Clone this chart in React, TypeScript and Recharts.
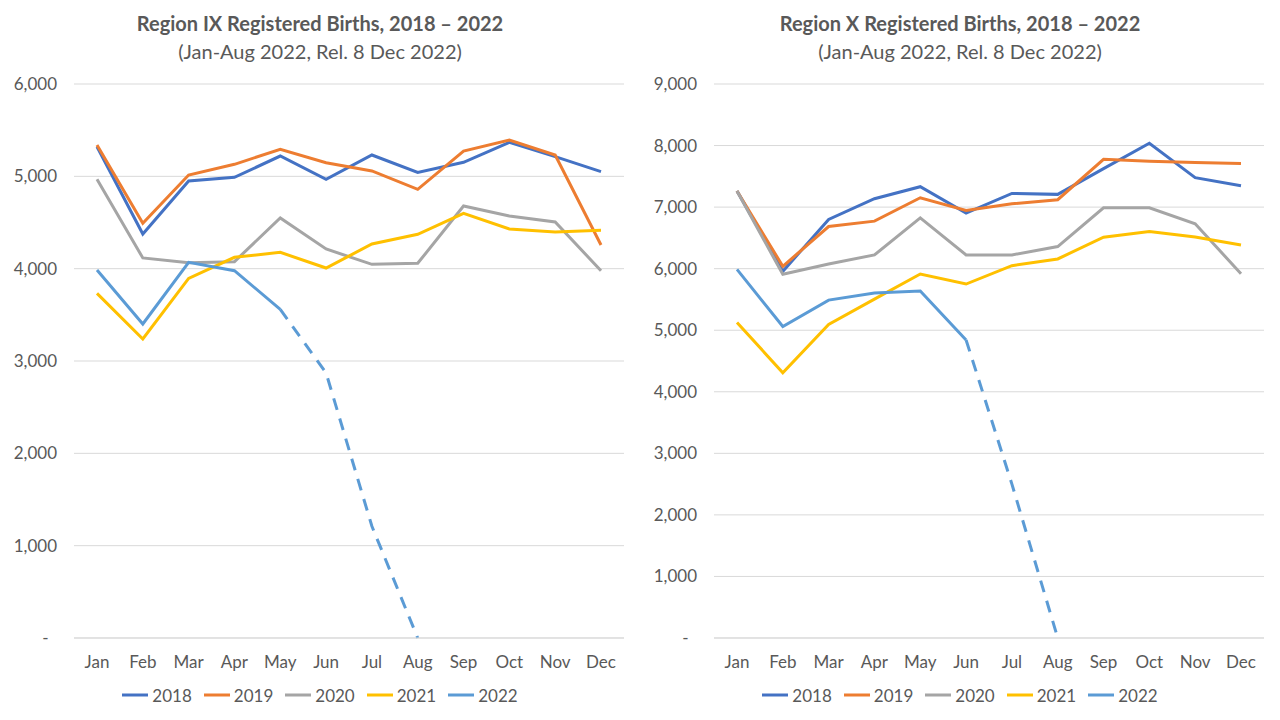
import React from "react";
import { LineChart, Line, XAxis, YAxis, CartesianGrid } from "recharts";

const months = ["Jan", "Feb", "Mar", "Apr", "May", "Jun", "Jul", "Aug", "Sep", "Oct", "Nov", "Dec"];
const years = ["2018", "2019", "2020", "2021", "2022"];

// Region IX
const r9y2018 = [5321, 4375, 4949, 4989, 5220, 4968, 5231, 5043, 5152, 5368, 5213, 5051];
const r9y2019 = [5339, 4491, 5014, 5130, 5292, 5148, 5058, 4859, 5274, 5394, 5231, 4256];
const r9y2020 = [4968, 4116, 4065, 4076, 4549, 4213, 4047, 4058, 4679, 4570, 4505, 3978];
const r9y2021 = [3733, 3238, 3895, 4123, 4177, 4007, 4267, 4372, 4599, 4430, 4397, 4415];
const r9y2022 = [3986, 3401, 4069, 3978, 3560, 2870, 1210, 0, null, null, null, null];
const r9SolidThrough = 4; // May: later months drawn dashed
const r9Ticks = [0, 1000, 2000, 3000, 4000, 5000, 6000];

// Region X
const r10y2018 = [7261, 5957, 6799, 7136, 7332, 6902, 7223, 7207, 7625, 8038, 7478, 7348];
const r10y2019 = [7261, 6038, 6685, 6772, 7152, 6946, 7054, 7120, 7777, 7745, 7723, 7707];
const r10y2020 = [7261, 5908, 6076, 6223, 6826, 6223, 6223, 6359, 6989, 6989, 6728, 5918];
const r10y2021 = [5125, 4310, 5092, 5505, 5913, 5750, 6049, 6158, 6511, 6603, 6516, 6386];
const r10y2022 = [5989, 5060, 5489, 5603, 5636, 4842, 2500, 0, null, null, null, null];
const r10SolidThrough = 5; // Jun
const r10Ticks = [0, 1000, 2000, 3000, 4000, 5000, 6000, 7000, 8000, 9000];

const colors: Record<string, string> = {
  "2018": "#4472C4",
  "2019": "#ED7D31",
  "2020": "#A5A5A5",
  "2021": "#FFC000",
  "2022": "#5B9BD5",
};

const textColor = "#595959";
const font = "Lato, 'Open Sans', sans-serif";

function buildRows(series: (number | null)[][], solidThrough: number) {
  return months.map((m, i) => {
    const last = series[4][i];
    return {
      month: m,
      y2018: series[0][i],
      y2019: series[1][i],
      y2020: series[2][i],
      y2021: series[3][i],
      y2022: i <= solidThrough ? last : null,
      y2022d: i >= solidThrough ? last : null,
    };
  });
}

const fmt = (v: number) => (v === 0 ? "-\u2002" : v.toLocaleString("en-US"));

function Legend() {
  return (
    <div
      style={{
        position: "absolute",
        top: 684,
        left: 0,
        width: 640,
        display: "flex",
        justifyContent: "center",
        fontFamily: font,
        fontSize: 17,
        color: textColor,
      }}
    >
      {years.map((y) => (
        <div key={y} style={{ display: "flex", alignItems: "center", margin: "0 6px" }}>
          <svg width={26} height={22}>
            <line x1={0} y1={11} x2={26} y2={11} stroke={colors[y]} strokeWidth={3} />
          </svg>
          <span style={{ marginLeft: 4 }}>{y}</span>
        </div>
      ))}
    </div>
  );
}

function RegionChart({
  title,
  rows,
  ticks,
}: {
  title: string;
  rows: ReturnType<typeof buildRows>;
  ticks: number[];
}) {
  return (
    <div style={{ position: "relative", width: 640, height: 720 }}>
      <div
        style={{
          position: "absolute",
          top: 10,
          width: 640,
          textAlign: "center",
          fontFamily: font,
          color: textColor,
          fontSize: 20,
          lineHeight: "27px",
        }}
      >
        <div style={{ fontWeight: "bold" }}>{title}</div>
        <div style={{ marginTop: 1 }}>(Jan-Aug 2022, Rel. 8 Dec 2022)</div>
      </div>
      <LineChart width={640} height={720} data={rows} margin={{ top: 84, right: 16, bottom: 52, left: 10 }}>
        <CartesianGrid vertical={false} stroke="#D9D9D9" />
        <XAxis
          dataKey="month"
          padding={{ left: 23, right: 23 }}
          axisLine={{ stroke: "#D9D9D9" }}
          tickLine={false}
          tickSize={0}
          tickMargin={18}
          height={30}
          interval={0}
          tick={{ fill: textColor, fontSize: 17, fontFamily: font }}
        />
        <YAxis
          width={64}
          domain={[0, ticks[ticks.length - 1]]}
          ticks={ticks}
          interval={0}
          axisLine={false}
          tickLine={false}
          tickSize={0}
          tickMargin={17}
          tickFormatter={fmt}
          tick={{ fill: textColor, fontSize: 17, fontFamily: font }}
        />
        {["2018", "2019", "2020", "2021"].map((y) => (
          <Line
            key={y}
            type="linear"
            dataKey={"y" + y}
            stroke={colors[y]}
            strokeWidth={3}
            dot={false}
            isAnimationActive={false}
          />
        ))}
        <Line
          type="linear"
          dataKey="y2022"
          stroke={colors["2022"]}
          strokeWidth={3}
          dot={false}
          isAnimationActive={false}
        />
        <Line
          type="linear"
          dataKey="y2022d"
          stroke={colors["2022"]}
          strokeWidth={3}
          strokeDasharray="12 9"
          strokeLinecap="butt"
          dot={false}
          isAnimationActive={false}
        />
      </LineChart>
      <Legend />
    </div>
  );
}

export default function App() {
  const rows9 = buildRows([r9y2018, r9y2019, r9y2020, r9y2021, r9y2022], r9SolidThrough);
  const rows10 = buildRows([r10y2018, r10y2019, r10y2020, r10y2021, r10y2022], r10SolidThrough);
  return (
    <div
      style={{
        position: "absolute",
        top: 0,
        left: 0,
        width: 1280,
        height: 720,
        background: "#fff",
        display: "flex",
      }}
    >
      <RegionChart title="Region IX Registered Births, 2018 – 2022" rows={rows9} ticks={r9Ticks} />
      <RegionChart title="Region X Registered Births, 2018 – 2022" rows={rows10} ticks={r10Ticks} />
    </div>
  );
}
